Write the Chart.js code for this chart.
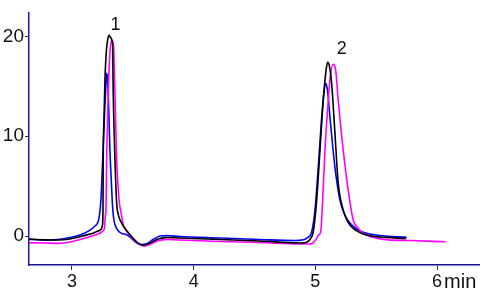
<!DOCTYPE html>
<html>
<head>
<meta charset="utf-8">
<script src="https://cdn.jsdelivr.net/npm/chart.js@4/dist/chart.umd.min.js"></script>
<style>
html,body{margin:0;padding:0;background:#fff;}
#wrap{width:480px;height:300px;}
</style>
</head>
<body>
<div id="wrap"><canvas id="c" width="480" height="300"></canvas></div>
<script>
// time (min) and signal values
const blackTime = [2.647,2.778,2.885,2.984,3.066,3.148,3.205,3.238,3.251,3.255,3.257,3.263,3.271,3.283,3.296,3.304,3.316,3.334,3.339,3.353,3.367,3.382,3.408,3.452,3.501,3.542,3.583,3.641,3.707,3.781,3.887,4.216,4.545,4.873,4.923,4.955,4.983,5.011,5.038,5.065,5.088,5.101,5.116,5.134,5.161,5.188,5.229,5.268,5.311,5.366,5.421,5.531,5.744];
const blackSignal = [-0.33,-0.38,-0.4,-0.3,-0.07,0.2,0.45,0.65,1.1,2.4,7.8,11.6,15.6,18.6,19.8,20.1,19.9,19.1,14.4,7.8,3.4,2.1,1.3,0.5,-0.2,-0.7,-0.9,-0.7,-0.3,-0.13,-0.2,-0.35,-0.5,-0.7,-0.65,-0.35,0.43,3.6,8.6,13.6,16.6,17.4,17.0,15.3,10.3,5.3,2.6,1.4,0.77,0.35,0.1,-0.1,-0.25];

const blueTime = [2.647,2.778,2.885,2.984,3.066,3.148,3.189,3.214,3.226,3.238,3.249,3.259,3.271,3.279,3.285,3.292,3.300,3.312,3.325,3.333,3.345,3.370,3.408,3.444,3.477,3.518,3.573,3.616,3.666,3.723,3.781,3.887,4.216,4.545,4.832,4.890,4.931,4.970,4.997,5.024,5.052,5.071,5.085,5.100,5.120,5.161,5.202,5.243,5.284,5.341,5.421,5.531,5.750];
const blueSignal = [-0.3,-0.4,-0.35,-0.15,0.1,0.6,1.0,1.4,2.1,3.6,6.6,9.6,13.1,15.1,16.3,15.8,13.6,8.6,5.1,3.1,1.6,0.7,0.27,0.15,-0.1,-0.57,-0.85,-0.75,-0.35,0.0,0.05,-0.05,-0.2,-0.35,-0.45,-0.4,-0.2,0.43,2.6,6.9,11.9,14.4,15.3,14.6,11.9,6.9,3.6,2.1,1.3,0.7,0.27,0.05,-0.13];

const magentaTime = [2.647,2.778,2.885,2.984,3.066,3.164,3.230,3.255,3.267,3.275,3.279,3.285,3.298,3.312,3.329,3.341,3.353,3.367,3.389,3.403,3.422,3.452,3.493,3.542,3.592,3.641,3.699,3.781,3.887,4.216,4.545,4.873,4.956,4.988,5.011,5.026,5.044,5.060,5.079,5.106,5.124,5.147,5.165,5.188,5.229,5.270,5.311,5.350,5.394,5.465,5.556,5.778,6.071];
const magentaSignal = [-0.67,-0.7,-0.73,-0.6,-0.35,0.0,0.3,0.5,0.8,2.1,2.4,7.8,14.4,18.4,19.6,19.2,14.4,7.8,3.4,2.4,1.1,0.45,-0.2,-0.73,-1.0,-0.85,-0.5,-0.33,-0.4,-0.55,-0.65,-0.8,-0.8,-0.6,-0.23,0.1,0.43,3.6,8.6,13.6,16.1,17.2,16.8,13.6,8.6,4.6,1.6,0.8,0.27,-0.1,-0.33,-0.45,-0.57];

const xTicks = [3,4,5,6];
const yTicks = [0,10,20];
const peakLabels = ["1","2"];
const peakLabelTime = [3.357,5.216];
const peakLabelSignal = [20.6,18.27];
const xUnit = "min";

function pts(xs, ys){ return xs.map((x,i)=>({x:x,y:ys[i]})); }

const FONT = "'Liberation Sans', Arial, sans-serif";

const annot = {
  id:'annot',
  afterDraw(chart){
    const ctx = chart.ctx, xs = chart.scales.x, ys = chart.scales.y;
    ctx.save();
    ctx.fillStyle = '#111';
    ctx.font = '18px ' + FONT;
    ctx.textAlign = 'center';
    ctx.textBaseline = 'alphabetic';
    peakLabels.forEach((t,i)=>{
      ctx.fillText(t, xs.getPixelForValue(peakLabelTime[i]), ys.getPixelForValue(peakLabelSignal[i]));
    });
    const last = xTicks[xTicks.length-1];
    const w = ctx.measureText(String(last)).width;
    ctx.font = '20px ' + FONT;
    ctx.textAlign = 'left';
    ctx.fillText(xUnit, xs.getPixelForValue(last) + w/2 + 2, chart.chartArea.bottom + 23);
    ctx.restore();
  }
};

new Chart(document.getElementById('c'), {
  type:'line',
  data:{
    datasets:[
      {data:pts(blackTime,blackSignal), borderColor:'#000000'},
      {data:pts(magentaTime,magentaSignal), borderColor:'#ff00ff'},
      {data:pts(blueTime,blueSignal), borderColor:'#0000ff'}
    ].map(d=>Object.assign(d,{borderWidth:1.6,pointRadius:0,fill:false,cubicInterpolationMode:'monotone'}))
  },
  options:{
    responsive:false,
    animation:false,
    layout:{padding:{top:12,right:0,left:0,bottom:0}},
    plugins:{legend:{display:false},tooltip:{enabled:false}},
    scales:{
      x:{
        type:'linear', min:2.647, max:6.353,
        afterFit(s){ s.height = 35; },
        afterBuildTicks(s){ s.ticks = xTicks.map(v=>({value:v})); },
        ticks:{font:{family:FONT,size:18},color:'#111',padding:1,autoSkip:false,maxRotation:0},
        grid:{display:true,drawOnChartArea:false,tickLength:5,color:'#333',tickWidth:1},
        border:{color:'#14148c',width:1.5}
      },
      y:{
        type:'linear', min:-2.9, max:22.4,
        afterFit(s){ s.width = 29; },
        afterBuildTicks(s){ s.ticks = yTicks.map(v=>({value:v})); },
        ticks:{font:{family:FONT,size:19},color:'#111',padding:1},
        grid:{display:true,drawOnChartArea:false,tickLength:4,color:'#333',tickWidth:1},
        border:{color:'#1a1ab4',width:1.5}
      }
    }
  },
  plugins:[annot]
});
</script>
</body>
</html>
